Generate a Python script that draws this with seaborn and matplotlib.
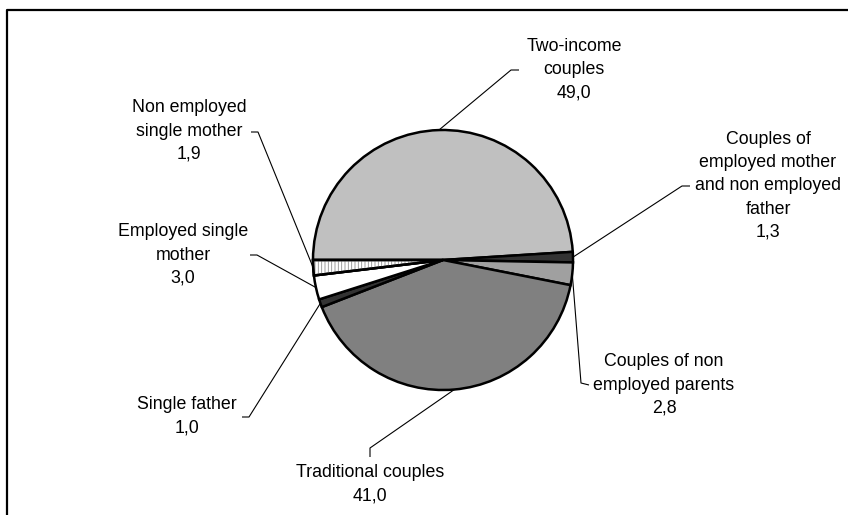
import numpy as np
import matplotlib.pyplot as plt
import seaborn as sns
from matplotlib.patches import Wedge

labels = ["Two-income\ncouples",
          "Couples of\nemployed mother\nand non employed\nfather",
          "Couples of non\nemployed parents",
          "Traditional couples",
          "Single father",
          "Employed single\nmother",
          "Non employed\nsingle mother"]
values = [49.0, 1.3, 2.8, 41.0, 1.0, 3.0, 1.9]
colors = ["#c0c0c0", "#333333", "#a0a0a0", "#808080", "#333333", "#ffffff", "#ffffff"]
hatches = [None, None, None, None, None, None, "|||||"]

# label layout in pixel coords (text centre, leader elbow, leader end)
text_pos = [(574, 70), (768, 186), (664, 385), (370, 484), (187, 416), (183, 255), (189, 131)]
elbows = [[(511, 70), (519, 70)],
          [(682, 186), (690, 186)],
          [(581, 383), (589, 385)],
          [(370, 448), (370, 457)],
          [(249, 417), (242, 417)],
          [(257, 255), (250, 255)],
          [(258, 132), (251, 132)]]

sns.set_theme(style="white")
plt.rcParams['font.family'] = ['Liberation Sans', 'DejaVu Sans']
plt.rcParams['hatch.linewidth'] = 0.6

fig = plt.figure(figsize=(8.48, 5.15), dpi=100)
ax = fig.add_axes([0, 0, 1, 1])

cx, cy, r = 443, 260, 130
wedges, _ = ax.pie(values, colors=colors, startangle=180, counterclock=True,
                   center=(cx, cy), radius=r,
                   wedgeprops=dict(edgecolor="black", linewidth=1.8))
# gray hatching laid under the black outline
for w, h in zip(wedges, hatches):
    if h:
        hw = Wedge(w.center, w.r, w.theta1, w.theta2, facecolor="none",
                   edgecolor="#909090", linewidth=0, hatch=h, zorder=w.get_zorder() + 0.5)
        ax.add_patch(hw)
        outline = Wedge(w.center, w.r, w.theta1, w.theta2, facecolor="none",
                        edgecolor="black", linewidth=1.8, zorder=w.get_zorder() + 0.6)
        ax.add_patch(outline)

ax.set_xlim(0, 848)
ax.set_ylim(515, 0)
ax.set_aspect('equal')
ax.axis('off')

for w, lab, val, tp, el in zip(wedges, labels, values, text_pos, elbows):
    mid = np.deg2rad((w.theta1 + w.theta2) / 2)
    px, py = cx + r * np.cos(mid), cy + r * np.sin(mid)
    xs = [px] + [p[0] for p in el]
    ys = [py] + [p[1] for p in el]
    ax.plot(xs, ys, color="black", lw=0.8, solid_capstyle="butt")
    txt = lab + "\n" + f"{val:.1f}".replace(".", ",")
    ax.text(tp[0], tp[1], txt, ha="center", va="center", fontsize=12.8,
            linespacing=1.48, color="black")

# chart frame
ax.plot([7, 7, 860], [530, 10, 10], color="black", lw=1.6, clip_on=False)

fig.savefig("out.png", dpi=100)
